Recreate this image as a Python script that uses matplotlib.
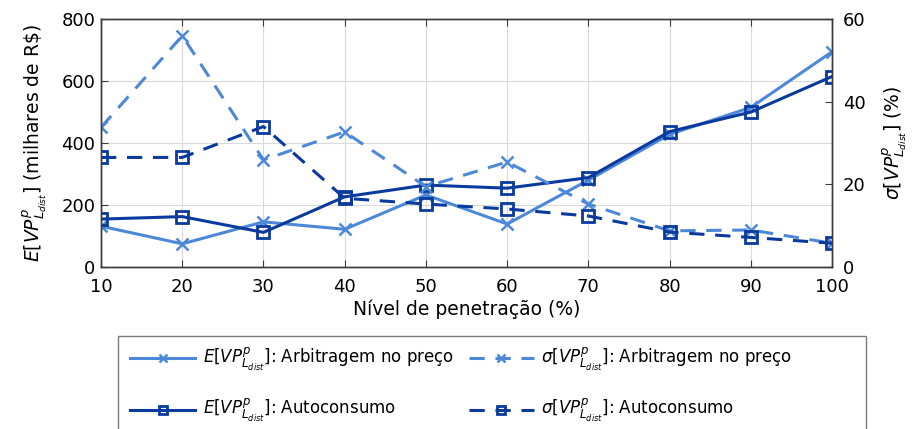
import numpy as np
import matplotlib.pyplot as plt
from matplotlib.patches import Rectangle

# Nível de penetração (%)
penetracao = [10, 20, 30, 40, 50, 60, 70, 80, 90, 100]

# Valor esperado (milhares de R$)
e_arbitragem = [131, 74, 145, 121, 232, 138, 280, 428, 515, 695]
e_autoconsumo = [154, 162, 111, 226, 264, 254, 288, 437, 500, 615]

# Desvio padrão (%)
s_arbitragem = [33.8, 56.0, 25.9, 32.7, 19.4, 25.4, 15.2, 8.7, 8.9, 5.7]
s_autoconsumo = [26.5, 26.5, 34.0, 16.6, 15.2, 14.0, 12.3, 8.4, 7.1, 5.7]

cor_clara = '#4d88d8'
cor_escura = '#0a3a9e'
cinza = '#3a3a3a'

lbl_e = r'$E[VP^{p}_{L_{dist}}]$'
lbl_s = r'$\sigma[VP^{p}_{L_{dist}}]$'

fig = plt.figure(figsize=(9.16, 4.29), dpi=100)
ax = fig.add_axes([0.1103, 0.3783, 0.7980, 0.5767])
ax2 = ax.twinx()

l1, = ax.plot(penetracao, e_arbitragem, '-', color=cor_clara, lw=2.2,
              marker='x', ms=8, mew=1.8, label=lbl_e + ': Arbitragem no preço')
l3, = ax.plot(penetracao, e_autoconsumo, '-', color=cor_escura, lw=2.2,
              marker='s', ms=8, mew=2, mfc='none', label=lbl_e + ': Autoconsumo')
l2, = ax2.plot(penetracao, s_arbitragem, '--', color=cor_clara, lw=2.2, dashes=(5, 3.5),
               marker='x', ms=8, mew=1.8, label=lbl_s + ': Arbitragem no preço')
l4, = ax2.plot(penetracao, s_autoconsumo, '--', color=cor_escura, lw=2.2, dashes=(5, 3.5),
               marker='s', ms=8, mew=2, mfc='none', label=lbl_s + ': Autoconsumo')

ax.set_xlim(10, 100)
ax.set_ylim(0, 800)
ax2.set_ylim(0, 60)
ax.set_xticks(penetracao)
ax.set_yticks([0, 200, 400, 600, 800])
ax2.set_yticks([0, 20, 40, 60])

ax.grid(True, color='#d9d9d9', lw=0.8)
ax.set_axisbelow(True)

for a in (ax, ax2):
    for s in a.spines.values():
        s.set_color(cinza)
        s.set_linewidth(1.0)
    a.tick_params(direction='in', length=5, width=0.8, color=cinza,
                  labelsize=13, labelcolor='black')
ax.tick_params(axis='x', top=True, pad=8)
ax.tick_params(axis='y', pad=4)
ax2.tick_params(axis='y', pad=8)

ax.set_xlabel('Nível de penetração (%)', fontsize=13.5, labelpad=3)
ax.set_ylabel(lbl_e + r' (milhares de R\$)', fontsize=13.5, labelpad=9)
ax2.set_ylabel(lbl_s + ' (%)', fontsize=13.5, labelpad=10)

# legenda em duas colunas, com moldura mais larga que o conteúdo
handles = [l1, l3, l2, l4]
leg = fig.legend(handles, [h.get_label() for h in handles],
                 ncol=2, loc='upper left', bbox_to_anchor=(0.124, 0.232),
                 fontsize=12, frameon=False, handlelength=3.9,
                 handletextpad=0.45, labelspacing=1.45, columnspacing=0.9,
                 borderpad=0.5, markerscale=0.8)
fig.patches.append(Rectangle((118 / 916, -0.05), 748 / 916, 0.05 + 1 - 336 / 429,
                             transform=fig.transFigure, fill=False,
                             edgecolor='#7a7a7a', lw=1.0))

fig.savefig('out.png', dpi=100)
